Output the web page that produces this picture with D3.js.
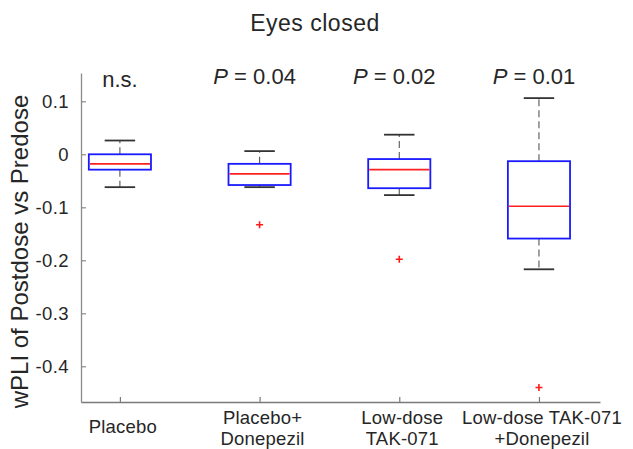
<!DOCTYPE html>
<html>
<head>
<meta charset="utf-8">
<script src="https://cdn.jsdelivr.net/npm/d3@7"></script>
<style>
  html, body { margin: 0; padding: 0; background: #fff; }
  svg { display: block; font-family: "Liberation Sans", Arial, Helvetica, sans-serif; }
  text { fill: #262626; }
</style>
</head>
<body>
<svg id="chart" width="633" height="449"></svg>
<script>
// Groups (two-line labels split on "\n")
const groups = ["Placebo", "Placebo+\nDonepezil", "Low-dose\nTAK-071", "Low-dose TAK-071\n+Donepezil"];
// Box-plot summary per group
const whiskerHigh = [0.026, 0.006, 0.037, 0.106];
const q3 = [0.000, -0.018, -0.009, -0.013];
const median = [-0.018, -0.037, -0.029, -0.098];
const q1 = [-0.029, -0.058, -0.064, -0.159];
const whiskerLow = [-0.062, -0.062, -0.077, -0.217];
const outliers = [[], [-0.133], [-0.198], [-0.440]];
// Significance labels above each box
const pLabels = [null, "0.04", "0.02", "0.01"];
const yTicks = [0.1, 0, -0.1, -0.2, -0.3, -0.4];

const svg = d3.select("#chart");
const margin = { left: 81, right: 33, top: 73, bottom: 47 };
const W = 633, H = 449;

const x = d3.scaleLinear().domain([0.7215, 4.437]).range([margin.left, W - margin.right]);
const y = d3.scaleLinear().domain([-0.4674, 0.1534]).range([H - margin.bottom, margin.top]);

const step = x(2) - x(1);
const boxW = step * 0.445;
const capW = boxW * 0.49;

// Title
svg.append("text")
  .attr("x", 315).attr("y", 31)
  .attr("text-anchor", "middle")
  .style("font-size", "23px")
  .style("letter-spacing", "0.5px")
  .text("Eyes closed");

// Y axis (ticks drawn inward)
const yAxis = svg.append("g")
  .attr("transform", `translate(${margin.left},0)`)
  .call(d3.axisLeft(y).tickValues(yTicks).tickSizeInner(-5).tickSizeOuter(0)
        .tickPadding(12).tickFormat(d => d === 0 ? "0" : d3.format(".1f")(d).replace("\u2212", "-")));
yAxis.select(".domain").attr("stroke", "#8a8a8a").attr("stroke-width", 1.3);
yAxis.selectAll(".tick line").attr("stroke", "#8a8a8a").attr("stroke-width", 1.2);
yAxis.selectAll(".tick text")
  .style("font-size", "18.5px").style("letter-spacing", "0.4px")
  .attr("fill", "#262626").style("font-family", "Liberation Sans, Arial, sans-serif");

// X axis (ticks drawn inward)
const xAxis = svg.append("g")
  .attr("transform", `translate(0,${H - margin.bottom})`)
  .call(d3.axisBottom(x).tickValues([1, 2, 3, 4]).tickSizeInner(-5).tickSizeOuter(0).tickFormat(""));
xAxis.select(".domain").attr("stroke", "#7a7a7a").attr("stroke-width", 1.4);
xAxis.selectAll(".tick line").attr("stroke", "#7a7a7a").attr("stroke-width", 1.2);

// Category labels
groups.forEach((g, i) => {
  const lines = g.split("\n");
  lines.forEach((ln, k) => {
    svg.append("text")
      .attr("text-anchor", "middle")
      .style("font-size", "18.5px")
      .style("letter-spacing", "0.2px")
      .attr("x", x(i + 1) + 3)
      .attr("y", lines.length === 1 ? 433 : 424 + k * 21)
      .text(ln);
  });
});

// Y label
svg.append("text")
  .attr("transform", `translate(28,${(margin.top + H - margin.bottom) / 2 + 14}) rotate(-90)`)
  .attr("text-anchor", "middle")
  .style("font-size", "24px")
  .text("wPLI of Postdose vs Predose");

// Boxes
const plot = svg.append("g");
groups.forEach((g, i) => {
  const cx = x(i + 1);
  // whiskers (dashed) from box edges to adjacent values
  plot.append("line")
    .attr("x1", cx).attr("x2", cx).attr("y1", y(q3[i])).attr("y2", y(whiskerHigh[i]))
    .attr("stroke", "#555").attr("stroke-width", 1.1).attr("stroke-dasharray", "7,4");
  plot.append("line")
    .attr("x1", cx).attr("x2", cx).attr("y1", y(q1[i])).attr("y2", y(whiskerLow[i]))
    .attr("stroke", "#555").attr("stroke-width", 1.1).attr("stroke-dasharray", "7,4");
  // whisker caps
  [whiskerHigh[i], whiskerLow[i]].forEach(v => {
    plot.append("line")
      .attr("x1", cx - capW / 2).attr("x2", cx + capW / 2)
      .attr("y1", y(v)).attr("y2", y(v))
      .attr("stroke", "#333").attr("stroke-width", 1.8);
  });
  // box
  plot.append("rect")
    .attr("x", cx - boxW / 2).attr("width", boxW)
    .attr("y", y(q3[i])).attr("height", y(q1[i]) - y(q3[i]))
    .attr("fill", "none").attr("stroke", "#1a1aff").attr("stroke-width", 1.8);
  // median
  plot.append("line")
    .attr("x1", cx - boxW / 2 + 1).attr("x2", cx + boxW / 2 - 1)
    .attr("y1", y(median[i])).attr("y2", y(median[i]))
    .attr("stroke", "#ff2020").attr("stroke-width", 1.6);
  // outliers
  outliers[i].forEach(v => {
    plot.append("path")
      .attr("d", `M${cx - 3.5},${y(v)}h7M${cx},${y(v) - 3.5}v7`)
      .attr("stroke", "#ff1a1a").attr("stroke-width", 1.6);
  });
});

// Significance annotations
pLabels.forEach((p, i) => {
  const cx = x(i + 1);
  if (p === null) {
    svg.append("text")
      .attr("x", cx).attr("y", 87)
      .attr("text-anchor", "middle")
      .style("font-size", "22px")
      .text("n.s.");
  } else {
    const t = svg.append("text")
      .attr("x", cx - 5).attr("y", 84)
      .attr("text-anchor", "middle")
      .style("font-size", "22px");
    t.append("tspan").style("font-style", "italic").text("P");
    t.append("tspan").text(" = " + p);
  }
});
</script>
</body>
</html>
